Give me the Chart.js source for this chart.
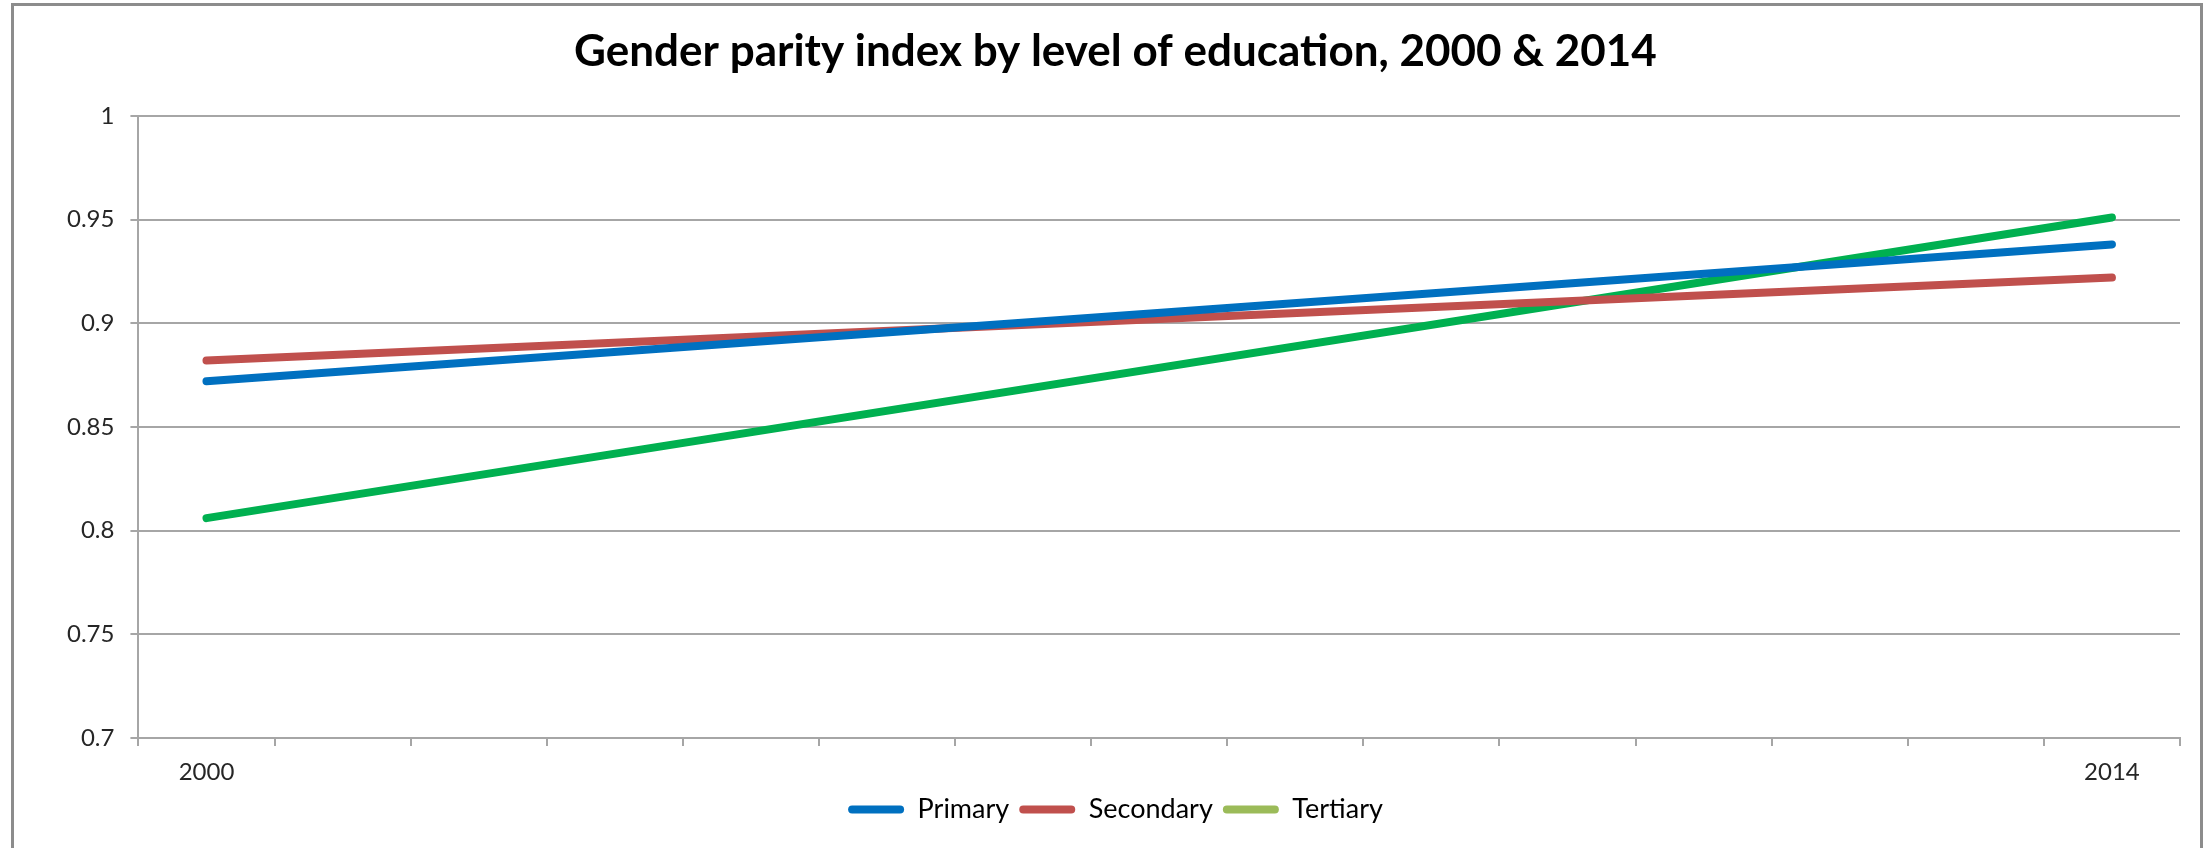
<!DOCTYPE html>
<html>
<head>
<meta charset="utf-8">
<script src="https://cdn.jsdelivr.net/npm/chart.js@4/dist/chart.umd.min.js"></script>
<style>
  html, body { margin: 0; padding: 0; background: #fff; }
  #wrap { position: relative; width: 2211px; height: 848px; overflow: hidden; }
  #frame {
    position: absolute; left: 11px; top: 3px; width: 2192px; height: 900px;
    border: 3px solid #8c8c8c; box-sizing: border-box; pointer-events: none;
  }
</style>
</head>
<body>
<div id="wrap">
  <canvas id="chart" width="2211" height="848"></canvas>
  <div id="frame"></div>
</div>
<script>
// categories (only first and last year carry values)
const years = ['2000', '2001', '2002', '2003', '2004', '2005', '2006', '2007',
               '2008', '2009', '2010', '2011', '2012', '2013', '2014'];
const shownYears = ['2000', '2014'];

// gender parity index per level
const primary   = [0.872, null, null, null, null, null, null, null, null, null, null, null, null, null, 0.938];
const secondary = [0.882, null, null, null, null, null, null, null, null, null, null, null, null, null, 0.922];
const tertiary  = [0.806, null, null, null, null, null, null, null, null, null, null, null, null, null, 0.951];

// y axis ticks
const yMin = 0.7, yMax = 1, yStep = 0.05;

const gridGrey = '#a6a6a6';
const font = 'Lato, "Open Sans", sans-serif';

new Chart(document.getElementById('chart'), {
  type: 'line',
  data: {
    labels: years,
    datasets: [
      { label: 'Primary', data: primary, borderColor: '#0070c0', backgroundColor: '#0070c0' },
      { label: 'Secondary', data: secondary, borderColor: '#c0504d', backgroundColor: '#c0504d' },
      { label: 'Tertiary', data: tertiary, borderColor: '#00b050', backgroundColor: '#9bbb59' }
    ].map(d => Object.assign(d, {
      borderWidth: 8, borderCapStyle: 'round', pointRadius: 0, spanGaps: true, fill: false, tension: 0
    }))
  },
  options: {
    responsive: false,
    animation: false,
    layout: { padding: { left: 51, right: 31, top: 0, bottom: 15 } },
    plugins: {
      title: {
        display: true,
        text: 'Gender parity index by level of education, 2000 & 2014',
        color: '#000',
        font: { family: font, size: 44, weight: 'bold' },
        padding: { top: 25, bottom: 38 }
      },
      legend: {
        position: 'bottom',
        labels: {
          color: '#000',
          font: { family: font, size: 27 },
          boxWidth: 56, boxHeight: 8,
          useBorderRadius: true, borderRadius: 4,
          padding: 10,
          generateLabels: (chart) => Chart.defaults.plugins.legend.labels.generateLabels(chart)
            .map(l => Object.assign(l, { lineWidth: 0, strokeStyle: l.fillStyle }))
        }
      },
      tooltip: { enabled: false }
    },
    scales: {
      x: {
        offset: true,
        afterFit: s => { s.height = 48; },
        grid: { drawOnChartArea: false, drawTicks: true, tickLength: 8, color: gridGrey, lineWidth: 2, offset: true },
        border: { color: gridGrey, width: 2 },
        ticks: {
          autoSkip: false, maxRotation: 0, padding: 12,
          color: '#262626', font: { family: font, size: 24 },
          callback: function (v) {
            const l = this.getLabelForValue(v);
            return shownYears.includes(l) ? l : '';
          }
        }
      },
      y: {
        min: yMin, max: yMax,
        grid: { color: gridGrey, lineWidth: 2, tickLength: 8 },
        border: { color: gridGrey, width: 2 },
        ticks: {
          stepSize: yStep, padding: 16,
          color: '#262626', font: { family: font, size: 24 },
          callback: v => String(+v.toFixed(2))
        }
      }
    }
  }
});
</script>
</body>
</html>
